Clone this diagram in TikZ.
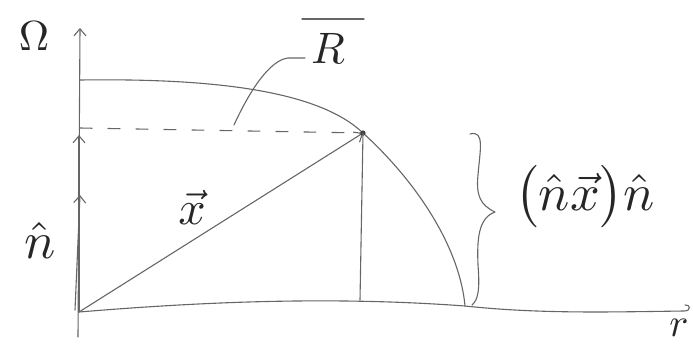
\documentclass[tikz,border=0pt]{standalone}
\usetikzlibrary{arrows.meta}
\begin{document}
\begin{tikzpicture}[x=1pt,y=-1pt,
  ink/.style={draw=black!60, line width=1.1pt, line cap=round, line join=round},
  tip/.style={-{Straight Barb[length=7pt,width=12pt]}},
  lbl/.style={inner sep=0pt, text=black!85}]
\useasboundingbox (0,0) rectangle (693,349);
% key points
\coordinate (O) at (79,312);
\coordinate (Abot) at (78,337);
\coordinate (Atop) at (80,28);
\coordinate (P) at (363,133);
\coordinate (Pfoot) at (360,300);
\coordinate (Dl) at (80,128);
\coordinate (Ntip) at (80,195);
\coordinate (Qtip) at (79,135);
\coordinate (Arct) at (80,80);
\coordinate (Arcb) at (465,306);
\coordinate (Rend) at (684,311);
% axes
\draw[ink, tip] (Abot) -- (Atop);
\draw[ink] (O) .. controls (200,302) and (330,296) .. (Arcb)
  .. controls (540,314) and (610,312) .. (Rend)
  .. controls (692,311) and (690,304) .. (685,305);
% circle arc
\draw[ink] (Arct) .. controls (220,78) and (320,92) .. (P)
  .. controls (420,185) and (460,250) .. (Arcb);
% dashed level line
\draw[ink, dash pattern=on 12pt off 16pt] (Dl) -- (P);
% vector x
\draw[ink, tip] (O) -- (P);
\fill[black!75] (P) circle (2.6pt);
% drop line
\draw[ink] (P) -- (Pfoot);
% n-hat and projection along axis
\draw[ink, tip] (75,310) -- (Ntip);
\draw[ink, tip] (O) -- (Qtip);
% leader to R
\coordinate (Lr) at (305,58);
\coordinate (Le) at (234,125);
\draw[ink] (Lr) -- (288,58) .. controls (270,60) and (250,90) .. (Le);
% brace
\draw[ink] (470,134) .. controls (485,130) and (480,150) .. (478,175)
  .. controls (476,195) and (480,205) .. (495,212)
  .. controls (478,218) and (477,240) .. (478,265)
  .. controls (480,290) and (478,300) .. (472,305);
% labels
\node[lbl, scale=4.2] (om) at (34,36) {$\Omega$};
\node[lbl, scale=4.0] (r) at (679,328) {$r$};
\node[lbl, scale=4.4] (R) at (328,48) {$R$};
\draw[ink, line width=1.3pt] (302,19) -- (364,19);
\node[lbl, scale=4.8] (x) at (192,207) {$\vec x$};
\node[lbl, scale=5.2] (n) at (40,240) {$\hat n$};
\node[lbl, scale=5.2, anchor=west] (f) at (514,197) {$\bigl(\hat n\vec x\bigr)\hat n$};
\end{tikzpicture}
\end{document}
